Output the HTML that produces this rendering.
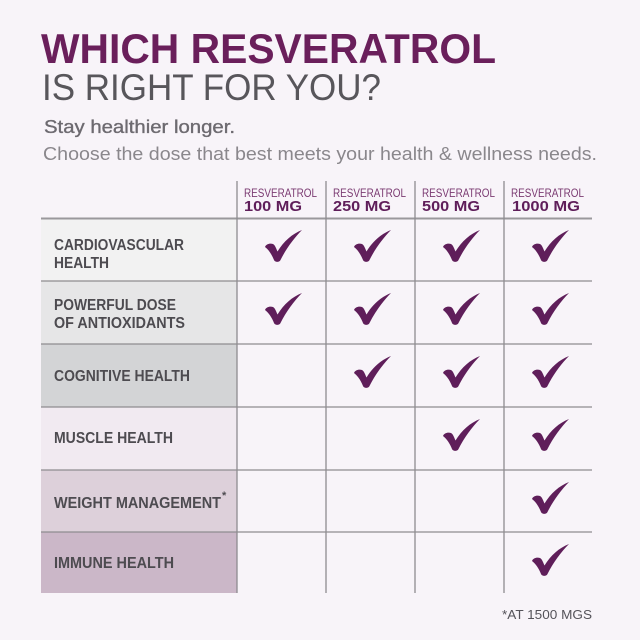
<!DOCTYPE html>
<html>
<head>
<meta charset="utf-8">
<style>
html,body{margin:0;padding:0;background:#f8f4f9;}
svg{display:block;}
text{font-family:"Liberation Sans",sans-serif;}
</style>
</head>
<body>
<svg width="640" height="640" viewBox="0 0 640 640" xmlns="http://www.w3.org/2000/svg">
<defs>
<path id="ck" d="M0,17 C1,14 5,13 8,14 C10,15 11,18 12.5,21.5 C19,11 27,4 37,0 C29,8 21,19 15.5,30 C14.5,32.5 10,32.5 9,30 C7,25 4,20 0,17 Z" fill="#5f1e5a"/>
</defs>
<rect width="640" height="640" fill="#f8f4f9"/>

<!-- Title -->
<text x="41" y="63" font-size="42" font-weight="bold" fill="#6a1f5b" textLength="455" lengthAdjust="spacingAndGlyphs">WHICH RESVERATROL</text>
<text x="42" y="100" font-size="37" fill="#58565b" textLength="339" lengthAdjust="spacingAndGlyphs">IS RIGHT FOR YOU?</text>
<text x="44" y="133" font-size="18" fill="#6d6a70" stroke="#6d6a70" stroke-width="0.35" textLength="191" lengthAdjust="spacingAndGlyphs">Stay healthier longer.</text>
<text x="43" y="160" font-size="18" fill="#8a878c" textLength="554" lengthAdjust="spacingAndGlyphs">Choose the dose that best meets your health &amp; wellness needs.</text>

<!-- Label cells -->
<rect x="41" y="219" width="196" height="62" fill="#f2f2f2"/>
<rect x="41" y="281" width="196" height="63" fill="#e6e6e7"/>
<rect x="41" y="344" width="196" height="63" fill="#d3d4d6"/>
<rect x="41" y="407" width="196" height="63" fill="#f1eaf1"/>
<rect x="41" y="470" width="196" height="62" fill="#ddd0da"/>
<rect x="41" y="532" width="196" height="61" fill="#cbb7c8"/>

<!-- Grid lines -->
<g stroke="#8e8c90" stroke-width="1.3">
<line x1="41" y1="218.5" x2="592" y2="218.5" stroke-width="2" stroke="#9a989c"/>
<line x1="41" y1="281" x2="592" y2="281"/>
<line x1="41" y1="344" x2="592" y2="344"/>
<line x1="41" y1="407" x2="592" y2="407"/>
<line x1="41" y1="470" x2="592" y2="470"/>
<line x1="41" y1="532" x2="592" y2="532"/>
<line x1="237" y1="181" x2="237" y2="593"/>
<line x1="326" y1="181" x2="326" y2="593"/>
<line x1="415" y1="181" x2="415" y2="593"/>
<line x1="504" y1="181" x2="504" y2="593"/>
</g>

<!-- Header -->
<g fill="#7b3b72" font-size="11.5">
<text x="244" y="197" textLength="73" lengthAdjust="spacingAndGlyphs">RESVERATROL</text>
<text x="333" y="197" textLength="73" lengthAdjust="spacingAndGlyphs">RESVERATROL</text>
<text x="422" y="197" textLength="73" lengthAdjust="spacingAndGlyphs">RESVERATROL</text>
<text x="511" y="197" textLength="73" lengthAdjust="spacingAndGlyphs">RESVERATROL</text>
</g>
<g fill="#5f1e5a" font-size="15" font-weight="bold">
<text x="244" y="211" textLength="58" lengthAdjust="spacingAndGlyphs">100 MG</text>
<text x="333" y="211" textLength="58" lengthAdjust="spacingAndGlyphs">250 MG</text>
<text x="422" y="211" textLength="58" lengthAdjust="spacingAndGlyphs">500 MG</text>
<text x="512" y="211" textLength="68" lengthAdjust="spacingAndGlyphs">1000 MG</text>
</g>

<!-- Row labels -->
<g fill="#4d4b50" font-size="15.5" font-weight="bold">
<text x="54" y="250" textLength="130" lengthAdjust="spacingAndGlyphs">CARDIOVASCULAR</text>
<text x="54" y="268" textLength="55" lengthAdjust="spacingAndGlyphs">HEALTH</text>
<text x="54" y="310" textLength="122" lengthAdjust="spacingAndGlyphs">POWERFUL DOSE</text>
<text x="54" y="328" textLength="131" lengthAdjust="spacingAndGlyphs">OF ANTIOXIDANTS</text>
<text x="54" y="381" textLength="136" lengthAdjust="spacingAndGlyphs">COGNITIVE HEALTH</text>
<text x="54" y="443" textLength="119" lengthAdjust="spacingAndGlyphs">MUSCLE HEALTH</text>
<text x="54" y="508" textLength="167" lengthAdjust="spacingAndGlyphs">WEIGHT MANAGEMENT</text>
<text x="222" y="499" font-size="11">*</text>
<text x="54" y="568" textLength="120" lengthAdjust="spacingAndGlyphs">IMMUNE HEALTH</text>
</g>

<!-- Checks: row 1 -->
<use href="#ck" x="265" y="230"/>
<use href="#ck" x="354" y="230"/>
<use href="#ck" x="443" y="230"/>
<use href="#ck" x="532" y="230"/>
<!-- row 2 -->
<use href="#ck" x="265" y="293"/>
<use href="#ck" x="354" y="293"/>
<use href="#ck" x="443" y="293"/>
<use href="#ck" x="532" y="293"/>
<!-- row 3 -->
<use href="#ck" x="354" y="356"/>
<use href="#ck" x="443" y="356"/>
<use href="#ck" x="532" y="356"/>
<!-- row 4 -->
<use href="#ck" x="443" y="419"/>
<use href="#ck" x="532" y="419"/>
<!-- row 5 -->
<use href="#ck" x="532" y="482"/>
<!-- row 6 -->
<use href="#ck" x="532" y="544"/>

<!-- Footnote -->
<text x="502" y="619" font-size="12.5" fill="#55535a" textLength="90" lengthAdjust="spacingAndGlyphs">*AT 1500 MGS</text>
</svg>
</body>
</html>
